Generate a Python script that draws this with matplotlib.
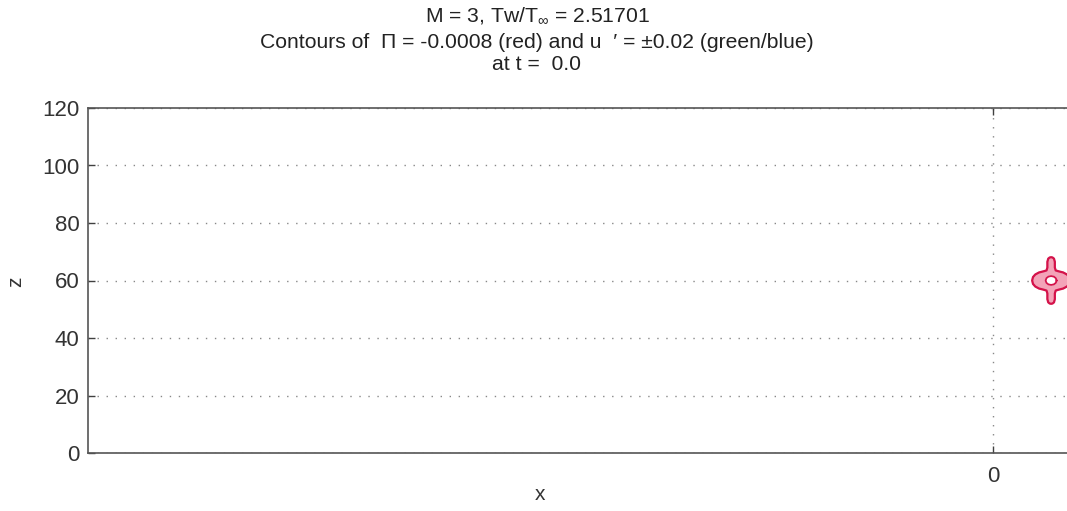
import matplotlib
matplotlib.use("Agg")
import matplotlib.pyplot as plt

plt.rcParams['font.family'] = ['Liberation Sans', 'DejaVu Sans']
plt.rcParams['mathtext.fontset'] = 'custom'
plt.rcParams['mathtext.rm'] = 'Liberation Sans'
plt.rcParams['mathtext.it'] = 'Liberation Sans'

# ---- data ----
title_lines = ["M = 3, Tw/T$_{\\infty}$ = 2.51701",
               "Contours of  \u03a0 = -0.0008 (red) and u  \u2032 = \u00b10.02 (green/blue)",
               "at t =  0.0"]
xlabel = "x"
zlabel = "z"
x_limits = [-315, 40]
z_limits = [0, 120]
x_ticks = [0]
z_ticks = [0, 20, 40, 60, 80, 100, 120]

# Pi = -0.0008 contour (center and outline offsets)
pi_center_x = 20.2
pi_center_z = 60.0
pi_outer_dx = [6.6, 6.3, 5.5, 4.2, 2.6, 1.6, 1.3, 1.3, 1.0, 0.5, 0.0, -0.5, -1.0, -1.3, -1.3, -1.6, -2.6, -4.2, -5.5, -6.3,
               -6.6, -6.3, -5.5, -4.2, -2.6, -1.6, -1.3, -1.3, -1.0, -0.5, 0.0, 0.5, 1.0, 1.3, 1.3, 1.6, 2.6, 4.2, 5.5, 6.3, 6.6]
pi_outer_dz = [0.0, 1.2, 2.1, 2.8, 3.2, 3.5, 4.5, 6.5, 7.6, 8.0, 8.1, 8.0, 7.6, 6.5, 4.5, 3.5, 3.2, 2.8, 2.1, 1.2,
               0.0, -1.2, -2.1, -2.8, -3.2, -3.5, -4.5, -6.5, -7.6, -8.0, -8.1, -8.0, -7.6, -6.5, -4.5, -3.5, -3.2, -2.8, -2.1, -1.2, 0.0]
pi_hole_dx = [1.9, 1.65, 0.95, 0.0, -0.95, -1.65, -1.9, -1.65, -0.95, 0.0, 0.95, 1.65, 1.9]
pi_hole_dz = [0.0, 0.8, 1.35, 1.55, 1.35, 0.8, 0.0, -0.8, -1.35, -1.55, -1.35, -0.8, 0.0]

# ---- figure ----
W, H = 1067, 511
fig = plt.figure(figsize=(W / 100, H / 100), dpi=100)
left_px, right_px, top_px, bot_px = 88, 1108, 108, 453
ax = fig.add_axes([left_px / W, 1 - bot_px / H, (right_px - left_px) / W, (bot_px - top_px) / H])
ax.set_xlim(x_limits)
ax.set_ylim(z_limits)
ax.set_xticks(x_ticks)
ax.set_yticks(z_ticks)
ax.grid(True, color='#888888', linestyle=(0, (1, 5.5)), linewidth=1.0)
ax.tick_params(direction='in', length=5, width=1, top=True, right=True, color='#404040',
               labelsize=16, labelcolor='#333333')
ax.tick_params(axis='x', pad=9)
ax.tick_params(axis='y', pad=6)
for s in ax.spines.values():
    s.set_color('#555555')
    s.set_linewidth(1.2)

ox = [pi_center_x + d for d in pi_outer_dx]
oz = [pi_center_z + d for d in pi_outer_dz]
hx = [pi_center_x + d for d in pi_hole_dx]
hz = [pi_center_z + d for d in pi_hole_dz]
ax.fill(ox, oz, color='#f3a3b8', zorder=3)
ax.fill(hx, hz, color='white', zorder=4)
ax.plot(ox, oz, color='#d4124a', lw=1.6, zorder=5)
ax.plot(hx, hz, color='#d4124a', lw=1.3, zorder=5)

fs_title = 15.2
fig.text(537 / W, 1 - 16 / H, title_lines[0], ha='center', va='center', fontsize=fs_title, color='#222222')
fig.text(537 / W, 1 - 42 / H, title_lines[1], ha='center', va='center', fontsize=fs_title, color='#222222')
fig.text(537 / W, 1 - 64 / H, title_lines[2], ha='center', va='center', fontsize=fs_title, color='#222222')
fig.text(540 / W, 1 - 494 / H, xlabel, ha='center', va='center', fontsize=15, color='#333333')
fig.text(16 / W, 1 - 282 / H, zlabel, ha='center', va='center', fontsize=15, color='#333333', rotation=90)

fig.savefig("out.png", dpi=100)
